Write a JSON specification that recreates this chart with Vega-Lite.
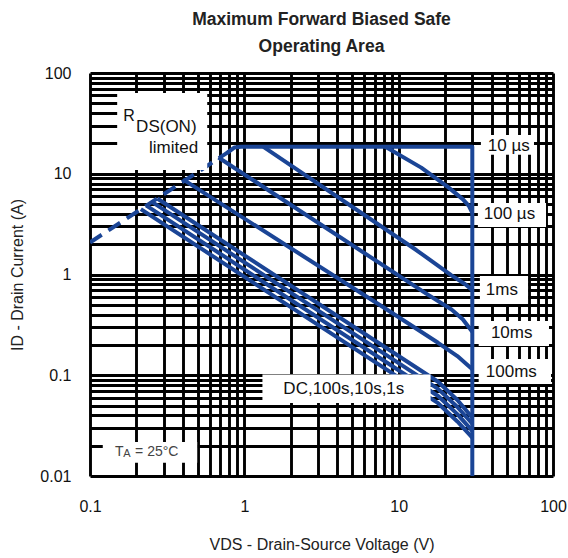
{
  "$schema": "https://vega.github.io/schema/vega-lite/v6.json",
  "width": 463,
  "height": 403,
  "autosize": {"type": "none"},
  "padding": {"left": 90, "top": 73, "right": 15, "bottom": 82},
  "background": "white",
  "title": {
    "text": ["Maximum Forward Biased Safe", "Operating Area"],
    "font": "Liberation Sans",
    "fontSize": 17.5,
    "fontWeight": "bold",
    "color": "#222222",
    "lineHeight": 27,
    "offset": 10,
    "anchor": "middle"
  },
  "config": {
    "view": {"stroke": null},
    "axis": {
      "grid": true,
      "gridColor": "#000000",
      "gridWidth": 2.9,
      "gridOpacity": 1,
      "ticks": false,
      "domain": false,
      "labelFont": "Liberation Sans",
      "labelFontSize": 16,
      "labelColor": "#111111",
      "titleFont": "Liberation Sans",
      "titleFontSize": 16,
      "titleFontWeight": "normal",
      "titleColor": "#222222",
      "labelOverlap": false,
      "labelFlush": false
    }
  },
  "datasets": {
    "rds": [
      {"V": 0.1, "I": 2.08},
      {"V": 0.8, "I": 16.7}
    ],
    "curves": [
      {"s": "10us", "o": 0, "V": 0.77, "I": 16},
      {"s": "10us", "o": 1, "V": 0.86, "I": 18.2},
      {"s": "10us", "o": 2, "V": 0.95, "I": 18.5},
      {"s": "10us", "o": 3, "V": 30, "I": 18.5},
      {"s": "10us", "o": 4, "V": 30, "I": 0.0095},
      {"s": "100us", "o": 0, "V": 8.2, "I": 18.5},
      {"s": "100us", "o": 1, "V": 14, "I": 11.5},
      {"s": "100us", "o": 2, "V": 20.8, "I": 7.4},
      {"s": "100us", "o": 3, "V": 26, "I": 5.6},
      {"s": "100us", "o": 4, "V": 28.5, "I": 4.8},
      {"s": "100us", "o": 5, "V": 30, "I": 4.1},
      {"s": "1ms", "o": 0, "V": 1.33, "I": 18.5},
      {"s": "1ms", "o": 1, "V": 13, "I": 1.75},
      {"s": "1ms", "o": 2, "V": 22, "I": 0.98},
      {"s": "1ms", "o": 3, "V": 27, "I": 0.8},
      {"s": "1ms", "o": 4, "V": 30, "I": 0.7},
      {"s": "10ms", "o": 0, "V": 0.68, "I": 14.5},
      {"s": "10ms", "o": 1, "V": 15, "I": 0.65},
      {"s": "10ms", "o": 2, "V": 22, "I": 0.45},
      {"s": "10ms", "o": 3, "V": 26, "I": 0.36},
      {"s": "10ms", "o": 4, "V": 30, "I": 0.27},
      {"s": "100ms", "o": 0, "V": 0.4, "I": 8.8},
      {"s": "100ms", "o": 1, "V": 8, "I": 0.47},
      {"s": "100ms", "o": 2, "V": 18, "I": 0.21},
      {"s": "100ms", "o": 3, "V": 24, "I": 0.155},
      {"s": "100ms", "o": 4, "V": 30, "I": 0.115},
      {"s": "1s", "o": 0, "V": 0.273, "I": 5.68},
      {"s": "1s", "o": 1, "V": 18, "I": 0.0861},
      {"s": "1s", "o": 2, "V": 24, "I": 0.0568},
      {"s": "1s", "o": 3, "V": 30, "I": 0.038},
      {"s": "10s", "o": 0, "V": 0.252, "I": 5.25},
      {"s": "10s", "o": 1, "V": 18, "I": 0.0733},
      {"s": "10s", "o": 2, "V": 24, "I": 0.0484},
      {"s": "10s", "o": 3, "V": 30, "I": 0.033},
      {"s": "100s", "o": 0, "V": 0.232, "I": 4.83},
      {"s": "100s", "o": 1, "V": 18, "I": 0.0622},
      {"s": "100s", "o": 2, "V": 24, "I": 0.0411},
      {"s": "100s", "o": 3, "V": 30, "I": 0.028},
      {"s": "DC", "o": 0, "V": 0.2135, "I": 4.45},
      {"s": "DC", "o": 1, "V": 18, "I": 0.0528},
      {"s": "DC", "o": 2, "V": 24, "I": 0.0348},
      {"s": "DC", "o": 3, "V": 30, "I": 0.024}
    ],
    "boxes": [
      {"V": 0.15, "V2": 0.575, "I": 63.3, "I2": 10.9},
      {"V": 34.1, "V2": 75.3, "I": 24.2, "I2": 15.4},
      {"V": 32.6, "V2": 90.1, "I": 5.13, "I2": 2.96},
      {"V": 33.6, "V2": 68.9, "I": 0.966, "I2": 0.509},
      {"V": 33.0, "V2": 94.2, "I": 0.345, "I2": 0.195},
      {"V": 33.0, "V2": 97.1, "I": 0.145, "I2": 0.0818},
      {"V": 1.31, "V2": 16.1, "I": 0.102, "I2": 0.053},
      {"V": 0.121, "V2": 0.495, "I": 0.0217, "I2": 0.0135}
    ],
    "curveLabels": [
      {"t": "10 µs", "V": 37.8, "I": 18.9},
      {"t": "100 µs", "V": 35.6, "I": 3.99},
      {"t": "1ms", "V": 36.7, "I": 0.7},
      {"t": "10ms", "V": 39.6, "I": 0.263},
      {"t": "100ms", "V": 36.7, "I": 0.108},
      {"t": "DC,100s,10s,1s", "V": 1.79, "I": 0.073}
    ],
    "rLabel": [
      {"t": "R", "V": 0.164, "I": 37.4}
    ],
    "dsLabel": [
      {"t": "DS(ON)", "V": 0.199, "I": 29.1}
    ],
    "limitedLabel": [
      {"t": "limited", "V": 0.502, "I": 18.0}
    ],
    "taBig": [
      {"t": "T", "V": 0.145, "I": 0.0173},
      {"t": "= 25°C", "V": 0.196, "I": 0.0173}
    ],
    "taSmall": [
      {"t": "A", "V": 0.164, "I": 0.0165}
    ]
  },
  "layer": [
    {
      "data": {"name": "rds"},
      "mark": {"type": "line", "color": "#1b4596", "strokeWidth": 4, "strokeDash": [14, 8], "clip": true},
      "encoding": {
        "x": {
          "field": "V", "type": "quantitative",
          "scale": {"type": "log", "domain": [0.1, 100], "nice": false},
          "axis": {
            "title": "VDS - Drain-Source Voltage (V)",
            "values": [0.1, 0.2, 0.3, 0.4, 0.5, 0.6, 0.7, 0.8, 0.9, 1, 2, 3, 4, 5, 6, 7, 8, 9, 10, 20, 30, 40, 50, 60, 70, 80, 90, 100],
            "format": "~g",
            "labelExpr": "(datum.value == 0.1 || datum.value == 1 || datum.value == 10 || datum.value == 100) ? datum.label : ''",
            "labelPadding": 22,
            "titlePadding": 22
          }
        },
        "y": {
          "field": "I", "type": "quantitative",
          "scale": {"type": "log", "domain": [0.01, 100], "nice": false},
          "axis": {
            "title": "ID - Drain Current (A)",
            "values": [0.01, 0.02, 0.03, 0.04, 0.05, 0.06, 0.07, 0.08, 0.09, 0.1, 0.2, 0.3, 0.4, 0.5, 0.6, 0.7, 0.8, 0.9, 1, 2, 3, 4, 5, 6, 7, 8, 9, 10, 20, 30, 40, 50, 60, 70, 80, 90, 100],
            "format": "~g",
            "labelExpr": "(datum.value == 0.01 || datum.value == 0.1 || datum.value == 1 || datum.value == 10 || datum.value == 100) ? datum.label : ''",
            "labelPadding": 19,
            "titlePadding": 14
          }
        }
      }
    },
    {
      "data": {"name": "curves"},
      "mark": {"type": "line", "color": "#1b4596", "strokeWidth": 4, "clip": true, "strokeJoin": "round"},
      "encoding": {
        "x": {"field": "V", "type": "quantitative"},
        "y": {"field": "I", "type": "quantitative"},
        "detail": {"field": "s"},
        "order": {"field": "o", "type": "quantitative"}
      }
    },
    {
      "data": {"name": "boxes"},
      "mark": {"type": "rect", "color": "white", "opacity": 1},
      "encoding": {
        "x": {"field": "V", "type": "quantitative"},
        "x2": {"field": "V2"},
        "y": {"field": "I", "type": "quantitative"},
        "y2": {"field": "I2"}
      }
    },
    {
      "data": {"name": "curveLabels"},
      "mark": {"type": "text", "font": "Liberation Sans", "fontSize": 17, "align": "left", "baseline": "middle", "color": "#111111"},
      "encoding": {
        "x": {"field": "V", "type": "quantitative"},
        "y": {"field": "I", "type": "quantitative"},
        "text": {"field": "t"}
      }
    },
    {
      "data": {"name": "rLabel"},
      "mark": {"type": "text", "font": "Liberation Sans", "fontSize": 16, "align": "left", "baseline": "middle", "color": "#111111"},
      "encoding": {
        "x": {"field": "V", "type": "quantitative"},
        "y": {"field": "I", "type": "quantitative"},
        "text": {"field": "t"}
      }
    },
    {
      "data": {"name": "dsLabel"},
      "mark": {"type": "text", "font": "Liberation Sans", "fontSize": 17, "align": "left", "baseline": "middle", "color": "#111111"},
      "encoding": {
        "x": {"field": "V", "type": "quantitative"},
        "y": {"field": "I", "type": "quantitative"},
        "text": {"field": "t"}
      }
    },
    {
      "data": {"name": "limitedLabel"},
      "mark": {"type": "text", "font": "Liberation Sans", "fontSize": 17, "align": "right", "baseline": "middle", "color": "#111111"},
      "encoding": {
        "x": {"field": "V", "type": "quantitative"},
        "y": {"field": "I", "type": "quantitative"},
        "text": {"field": "t"}
      }
    },
    {
      "data": {"name": "taBig"},
      "mark": {"type": "text", "font": "Liberation Sans", "fontSize": 14, "align": "left", "baseline": "middle", "color": "#444444"},
      "encoding": {
        "x": {"field": "V", "type": "quantitative"},
        "y": {"field": "I", "type": "quantitative"},
        "text": {"field": "t"}
      }
    },
    {
      "data": {"name": "taSmall"},
      "mark": {"type": "text", "font": "Liberation Sans", "fontSize": 11, "align": "left", "baseline": "middle", "color": "#444444"},
      "encoding": {
        "x": {"field": "V", "type": "quantitative"},
        "y": {"field": "I", "type": "quantitative"},
        "text": {"field": "t"}
      }
    }
  ]
}
